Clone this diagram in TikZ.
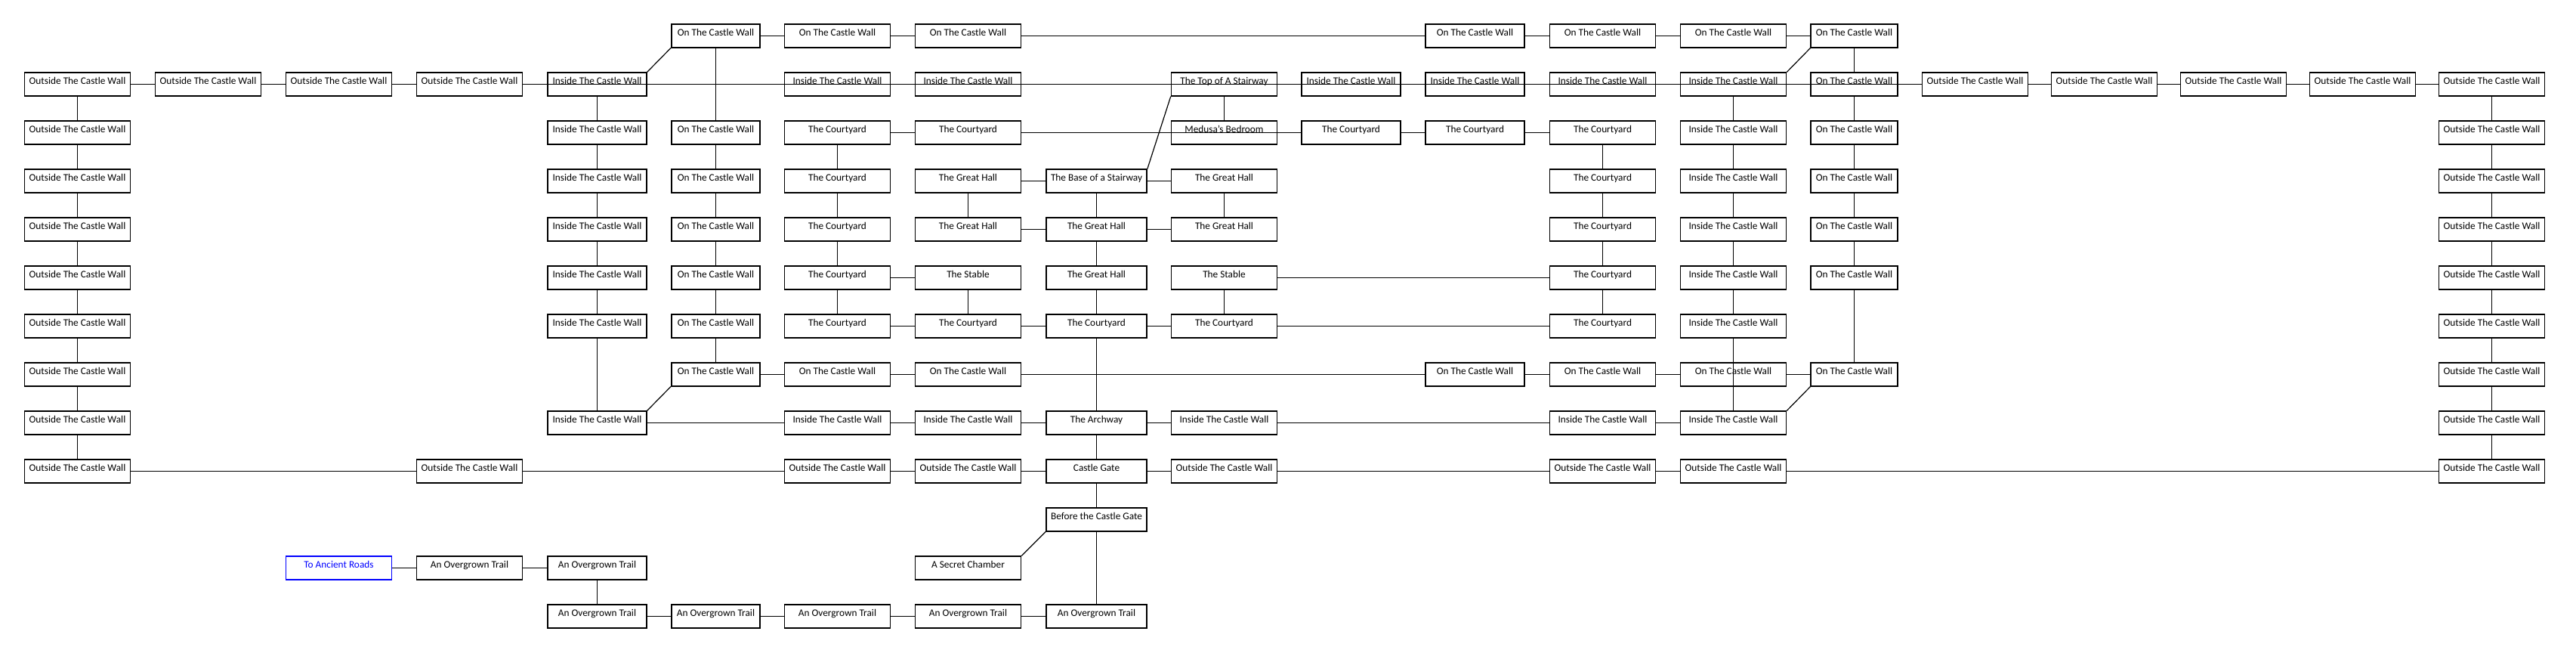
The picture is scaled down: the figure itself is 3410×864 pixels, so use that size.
\documentclass[tikz,border=0pt]{standalone}
\usepackage{fontspec}
\setmainfont{Carlito}

\begin{document}
\begin{tikzpicture}[x=1pt,y=-1pt,line width=1.2pt,
  room/.style={draw,line width=1.7pt,inner sep=0pt,minimum width=139.8pt,minimum height=30.5pt,
    text height=9pt,text depth=9pt,font=\fontsize{13.3}{15}\selectfont},
  wd/.style={minimum width=#1pt},
  exitroom/.style={room,blue}]
  \useasboundingbox (0,0) rectangle (3410,864);
  \node[room,wd=117.5] (r0c5) at (947.5,47.5) {On The Castle Wall};
  \node[room] (r0c6) at (1108.5,47.5) {On The Castle Wall};
  \node[room] (r0c7) at (1281.5,47.5) {On The Castle Wall};
  \node[room,wd=131] (r0c11) at (1952.5,47.5) {On The Castle Wall};
  \node[room] (r0c12) at (2121.5,47.5) {On The Castle Wall};
  \node[room] (r0c13) at (2294.5,47.5) {On The Castle Wall};
  \node[room,wd=114.5] (r0c14) at (2454.5,47.5) {On The Castle Wall};

  \node[room] (r1c0) at (102.5,111.5) {Outside The Castle Wall};
  \node[room] (r1c1) at (275.5,111.5) {Outside The Castle Wall};
  \node[room] (r1c2) at (448.5,111.5) {Outside The Castle Wall};
  \node[room] (r1c3) at (621.5,111.5) {Outside The Castle Wall};
  \node[room,wd=130.5] (r1c4) at (790.5,111.5) {Inside The Castle Wall};
  \node[room] (r1c6) at (1108.5,111.5) {Inside The Castle Wall};
  \node[room] (r1c7) at (1281.5,111.5) {Inside The Castle Wall};
  \node[room] (r1c9) at (1620.5,111.5) {The Top of A Stairway};
  \node[room,wd=131] (r1c10) at (1788.5,111.5) {Inside The Castle Wall};
  \node[room,wd=131] (r1c11) at (1952.5,111.5) {Inside The Castle Wall};
  \node[room] (r1c12) at (2121.5,111.5) {Inside The Castle Wall};
  \node[room] (r1c13) at (2294.5,111.5) {Inside The Castle Wall};
  \node[room,wd=114.5] (r1c14) at (2454.5,111.5) {On The Castle Wall};
  \node[room] (r1c15) at (2614.5,111.5) {Outside The Castle Wall};
  \node[room] (r1c16) at (2785.5,111.5) {Outside The Castle Wall};
  \node[room] (r1c17) at (2956.5,111.5) {Outside The Castle Wall};
  \node[room] (r1c18) at (3127.5,111.5) {Outside The Castle Wall};
  \node[room] (r1c19) at (3298.5,111.5) {Outside The Castle Wall};

  \node[room] (r2c0) at (102.5,175.5) {Outside The Castle Wall};
  \node[room,wd=130.5] (r2c4) at (790.5,175.5) {Inside The Castle Wall};
  \node[room,wd=117.5] (r2c5) at (947.5,175.5) {On The Castle Wall};
  \node[room] (r2c6) at (1108.5,175.5) {The Courtyard};
  \node[room] (r2c7) at (1281.5,175.5) {The Courtyard};
  \node[room] (r2c9) at (1620.5,175.5) {Medusa's Bedroom};
  \node[room,wd=131] (r2c10) at (1788.5,175.5) {The Courtyard};
  \node[room,wd=131] (r2c11) at (1952.5,175.5) {The Courtyard};
  \node[room] (r2c12) at (2121.5,175.5) {The Courtyard};
  \node[room] (r2c13) at (2294.5,175.5) {Inside The Castle Wall};
  \node[room,wd=114.5] (r2c14) at (2454.5,175.5) {On The Castle Wall};
  \node[room] (r2c19) at (3298.5,175.5) {Outside The Castle Wall};

  \node[room] (r3c0) at (102.5,239.5) {Outside The Castle Wall};
  \node[room,wd=130.5] (r3c4) at (790.5,239.5) {Inside The Castle Wall};
  \node[room,wd=117.5] (r3c5) at (947.5,239.5) {On The Castle Wall};
  \node[room] (r3c6) at (1108.5,239.5) {The Courtyard};
  \node[room] (r3c7) at (1281.5,239.5) {The Great Hall};
  \node[room,wd=133] (r3c8) at (1451.5,239.5) {The Base of a Stairway};
  \node[room] (r3c9) at (1620.5,239.5) {The Great Hall};
  \node[room] (r3c12) at (2121.5,239.5) {The Courtyard};
  \node[room] (r3c13) at (2294.5,239.5) {Inside The Castle Wall};
  \node[room,wd=114.5] (r3c14) at (2454.5,239.5) {On The Castle Wall};
  \node[room] (r3c19) at (3298.5,239.5) {Outside The Castle Wall};

  \node[room] (r4c0) at (102.5,303.5) {Outside The Castle Wall};
  \node[room,wd=130.5] (r4c4) at (790.5,303.5) {Inside The Castle Wall};
  \node[room,wd=117.5] (r4c5) at (947.5,303.5) {On The Castle Wall};
  \node[room] (r4c6) at (1108.5,303.5) {The Courtyard};
  \node[room] (r4c7) at (1281.5,303.5) {The Great Hall};
  \node[room,wd=133] (r4c8) at (1451.5,303.5) {The Great Hall};
  \node[room] (r4c9) at (1620.5,303.5) {The Great Hall};
  \node[room] (r4c12) at (2121.5,303.5) {The Courtyard};
  \node[room] (r4c13) at (2294.5,303.5) {Inside The Castle Wall};
  \node[room,wd=114.5] (r4c14) at (2454.5,303.5) {On The Castle Wall};
  \node[room] (r4c19) at (3298.5,303.5) {Outside The Castle Wall};

  \node[room] (r5c0) at (102.5,367.5) {Outside The Castle Wall};
  \node[room,wd=130.5] (r5c4) at (790.5,367.5) {Inside The Castle Wall};
  \node[room,wd=117.5] (r5c5) at (947.5,367.5) {On The Castle Wall};
  \node[room] (r5c6) at (1108.5,367.5) {The Courtyard};
  \node[room] (r5c7) at (1281.5,367.5) {The Stable};
  \node[room,wd=133] (r5c8) at (1451.5,367.5) {The Great Hall};
  \node[room] (r5c9) at (1620.5,367.5) {The Stable};
  \node[room] (r5c12) at (2121.5,367.5) {The Courtyard};
  \node[room] (r5c13) at (2294.5,367.5) {Inside The Castle Wall};
  \node[room,wd=114.5] (r5c14) at (2454.5,367.5) {On The Castle Wall};
  \node[room] (r5c19) at (3298.5,367.5) {Outside The Castle Wall};

  \node[room] (r6c0) at (102.5,431.5) {Outside The Castle Wall};
  \node[room,wd=130.5] (r6c4) at (790.5,431.5) {Inside The Castle Wall};
  \node[room,wd=117.5] (r6c5) at (947.5,431.5) {On The Castle Wall};
  \node[room] (r6c6) at (1108.5,431.5) {The Courtyard};
  \node[room] (r6c7) at (1281.5,431.5) {The Courtyard};
  \node[room,wd=133] (r6c8) at (1451.5,431.5) {The Courtyard};
  \node[room] (r6c9) at (1620.5,431.5) {The Courtyard};
  \node[room] (r6c12) at (2121.5,431.5) {The Courtyard};
  \node[room] (r6c13) at (2294.5,431.5) {Inside The Castle Wall};
  \node[room] (r6c19) at (3298.5,431.5) {Outside The Castle Wall};

  \node[room] (r7c0) at (102.5,495.5) {Outside The Castle Wall};
  \node[room,wd=117.5] (r7c5) at (947.5,495.5) {On The Castle Wall};
  \node[room] (r7c6) at (1108.5,495.5) {On The Castle Wall};
  \node[room] (r7c7) at (1281.5,495.5) {On The Castle Wall};
  \node[room,wd=131] (r7c11) at (1952.5,495.5) {On The Castle Wall};
  \node[room] (r7c12) at (2121.5,495.5) {On The Castle Wall};
  \node[room] (r7c13) at (2294.5,495.5) {On The Castle Wall};
  \node[room,wd=114.5] (r7c14) at (2454.5,495.5) {On The Castle Wall};
  \node[room] (r7c19) at (3298.5,495.5) {Outside The Castle Wall};

  \node[room] (r8c0) at (102.5,559.5) {Outside The Castle Wall};
  \node[room,wd=130.5] (r8c4) at (790.5,559.5) {Inside The Castle Wall};
  \node[room] (r8c6) at (1108.5,559.5) {Inside The Castle Wall};
  \node[room] (r8c7) at (1281.5,559.5) {Inside The Castle Wall};
  \node[room,wd=133] (r8c8) at (1451.5,559.5) {The Archway};
  \node[room] (r8c9) at (1620.5,559.5) {Inside The Castle Wall};
  \node[room] (r8c12) at (2121.5,559.5) {Inside The Castle Wall};
  \node[room] (r8c13) at (2294.5,559.5) {Inside The Castle Wall};
  \node[room] (r8c19) at (3298.5,559.5) {Outside The Castle Wall};

  \node[room] (r9c0) at (102.5,623.5) {Outside The Castle Wall};
  \node[room] (r9c3) at (621.5,623.5) {Outside The Castle Wall};
  \node[room] (r9c6) at (1108.5,623.5) {Outside The Castle Wall};
  \node[room] (r9c7) at (1281.5,623.5) {Outside The Castle Wall};
  \node[room,wd=133] (r9c8) at (1451.5,623.5) {Castle Gate};
  \node[room] (r9c9) at (1620.5,623.5) {Outside The Castle Wall};
  \node[room] (r9c12) at (2121.5,623.5) {Outside The Castle Wall};
  \node[room] (r9c13) at (2294.5,623.5) {Outside The Castle Wall};
  \node[room] (r9c19) at (3298.5,623.5) {Outside The Castle Wall};

  \node[room,wd=133] (r10c8) at (1451.5,687.5) {Before the Castle Gate};

  \node[exitroom] (r11c2) at (448.5,751.5) {To Ancient Roads};
  \node[room] (r11c3) at (621.5,751.5) {An Overgrown Trail};
  \node[room,wd=130.5] (r11c4) at (790.5,751.5) {An Overgrown Trail};
  \node[room] (r11c7) at (1281.5,751.5) {A Secret Chamber};

  \node[room,wd=130.5] (r12c4) at (790.5,815.5) {An Overgrown Trail};
  \node[room,wd=117.5] (r12c5) at (947.5,815.5) {An Overgrown Trail};
  \node[room] (r12c6) at (1108.5,815.5) {An Overgrown Trail};
  \node[room] (r12c7) at (1281.5,815.5) {An Overgrown Trail};
  \node[room,wd=133] (r12c8) at (1451.5,815.5) {An Overgrown Trail};

  \draw (r0c5) edge (r0c6) (r0c6) edge (r0c7) (r0c7) edge (r0c11);
  \draw (r0c11) edge (r0c12) (r0c12) edge (r0c13) (r0c13) edge (r0c14);
  \draw (r1c0) edge (r1c1) (r1c1) edge (r1c2) (r1c2) edge (r1c3) (r1c3) edge (r1c15);
  \draw (r1c15) edge (r1c16) (r1c16) edge (r1c17) (r1c17) edge (r1c18) (r1c18) edge (r1c19);
  \draw (r2c6) edge (r2c7) (r2c7) edge (r2c10) (r2c10) edge (r2c11) (r2c11) edge (r2c12);
  \draw (r3c7) edge (r3c8) (r3c8) edge (r3c9) (r4c7) edge (r4c8) (r4c8) edge (r4c9);
  \draw (r5c6) edge (r5c7) (r5c9) edge (r5c12);
  \draw (r6c6) edge (r6c7) (r6c7) edge (r6c8) (r6c8) edge (r6c9) (r6c9) edge (r6c12);
  \draw (r7c5) edge (r7c6) (r7c6) edge (r7c7) (r7c7) edge (r7c11);
  \draw (r7c11) edge (r7c12) (r7c12) edge (r7c13) (r7c13) edge (r7c14);
  \draw (r8c4) edge (r8c6) (r8c6) edge (r8c7) (r8c7) edge (r8c8) (r8c8) edge (r8c9);
  \draw (r8c9) edge (r8c12) (r8c12) edge (r8c13);
  \draw (r9c0) edge (r9c3) (r9c3) edge (r9c6) (r9c6) edge (r9c7) (r9c7) edge (r9c8);
  \draw (r9c8) edge (r9c9) (r9c9) edge (r9c12) (r9c12) edge (r9c13) (r9c13) edge (r9c19);
  \draw (r11c2) edge (r11c3) (r11c3) edge (r11c4);
  \draw (r12c4) edge (r12c5) (r12c5) edge (r12c6) (r12c6) edge (r12c7) (r12c7) edge (r12c8);

  \draw (r1c0) edge (r2c0) (r2c0) edge (r3c0) (r3c0) edge (r4c0) (r4c0) edge (r5c0);
  \draw (r5c0) edge (r6c0) (r6c0) edge (r7c0) (r7c0) edge (r8c0) (r8c0) edge (r9c0);
  \draw (r1c19) edge (r2c19) (r2c19) edge (r3c19) (r3c19) edge (r4c19) (r4c19) edge (r5c19);
  \draw (r5c19) edge (r6c19) (r6c19) edge (r7c19) (r7c19) edge (r8c19) (r8c19) edge (r9c19);
  \draw (r1c4) edge (r2c4) (r2c4) edge (r3c4) (r3c4) edge (r4c4) (r4c4) edge (r5c4);
  \draw (r5c4) edge (r6c4) (r6c4) edge (r8c4) (r11c4) edge (r12c4);
  \draw (r0c5) edge (r2c5) (r2c5) edge (r3c5) (r3c5) edge (r4c5) (r4c5) edge (r5c5);
  \draw (r5c5) edge (r6c5) (r6c5) edge (r7c5);
  \draw (r2c6) edge (r3c6) (r3c6) edge (r4c6) (r4c6) edge (r5c6) (r5c6) edge (r6c6);
  \draw (r3c7) edge (r4c7) (r5c7) edge (r6c7);
  \draw (r3c8) edge (r4c8) (r4c8) edge (r5c8) (r5c8) edge (r6c8) (r6c8) edge (r8c8);
  \draw (r8c8) edge (r9c8) (r9c8) edge (r10c8) (r10c8) edge (r12c8);
  \draw (r1c9) edge (r2c9) (r3c9) edge (r4c9) (r5c9) edge (r6c9);
  \draw (r2c12) edge (r3c12) (r3c12) edge (r4c12) (r4c12) edge (r5c12) (r5c12) edge (r6c12);
  \draw (r1c13) edge (r2c13) (r2c13) edge (r3c13) (r3c13) edge (r4c13) (r4c13) edge (r5c13);
  \draw (r5c13) edge (r6c13) (r6c13) edge (r8c13);
  \draw (r0c14) edge (r1c14) (r1c14) edge (r2c14) (r2c14) edge (r3c14) (r3c14) edge (r4c14);
  \draw (r4c14) edge (r5c14) (r5c14) edge (r7c14);

  \draw (r1c4.north east) edge (r0c5.south west) (r1c9.south west) edge (r3c8.north east);
  \draw (r1c13.north east) edge (r0c14.south west) (r8c4.north east) edge (r7c5.south west);
  \draw (r7c14.south west) edge (r8c13.north east) (r10c8.south west) edge (r11c7.north east);
\end{tikzpicture}
\end{document}
